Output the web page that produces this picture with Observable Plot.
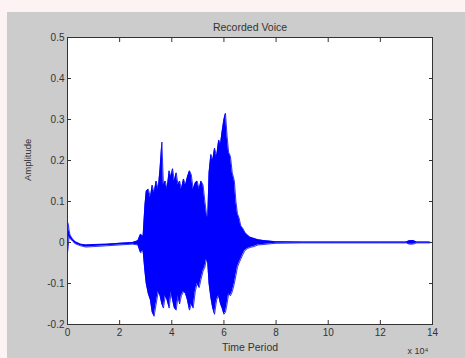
<!DOCTYPE html>
<html>
<head>
<meta charset="utf-8">
<script src="https://cdn.jsdelivr.net/npm/d3@7"></script>
<script src="https://cdn.jsdelivr.net/npm/@observablehq/plot@0.6"></script>
<style>
  html, body { margin: 0; padding: 0; background: #fdf3f2; width: 465px; height: 358px; overflow: hidden; }
  #fig { position: absolute; left: 7px; top: 12px; width: 458px; height: 346px; background: #cccccc; }
  svg { font-family: "Liberation Sans", Arial, sans-serif; }
</style>
</head>
<body>
<div id="fig"></div>
<script>
// Time (x 10^4 samples)
const time = [0, 0.03, 0.06, 0.1, 0.2, 0.3, 0.5, 0.7, 1.0, 1.5, 2.0, 2.5, 2.7, 2.8, 2.9,
  2.97, 3.02, 3.10, 3.18, 3.25, 3.32, 3.40, 3.48, 3.55, 3.62, 3.68, 3.75, 3.82, 3.90, 3.97,
  4.03, 4.10, 4.17, 4.24, 4.30, 4.37, 4.45, 4.53, 4.60, 4.68, 4.75, 4.82, 4.90, 4.97,
  5.05, 5.12, 5.20, 5.27, 5.33, 5.38, 5.43, 5.50, 5.57, 5.64, 5.72, 5.80, 5.87, 5.93,
  6.00, 6.06, 6.12, 6.18, 6.25, 6.32, 6.40, 6.46, 6.52, 6.58, 6.65, 6.72, 6.80, 6.90,
  7.00, 7.15, 7.30, 7.50, 7.80, 8.00, 9.0, 10.0, 11.0, 12.0, 13.0, 13.1, 13.25, 13.4, 13.9];
// Upper envelope of amplitude
const upper = [0.05, 0.045, 0.03, 0.018, 0.008, 0.002, -0.004, -0.006, -0.005, -0.004, -0.002, 0.0, 0.004, 0.02, 0.015,
  0.09, 0.125, 0.13, 0.11, 0.14, 0.12, 0.15, 0.13, 0.18, 0.245, 0.14, 0.15, 0.13, 0.175, 0.16,
  0.18, 0.15, 0.17, 0.14, 0.15, 0.13, 0.155, 0.14, 0.16, 0.175, 0.165, 0.13, 0.145, 0.15,
  0.13, 0.15, 0.14, 0.10, 0.07, 0.06, 0.17, 0.215, 0.20, 0.23, 0.21, 0.25, 0.24, 0.27,
  0.30, 0.315, 0.26, 0.22, 0.21, 0.17, 0.15, 0.10, 0.07, 0.06, 0.04, 0.035, 0.025, 0.018,
  0.013, 0.01, 0.007, 0.005, 0.003, 0.002, 0.001, 0.001, 0.001, 0.001, 0.001, 0.004, 0.005, 0.001, 0.001];
// Lower envelope of amplitude
const lower = [-0.025, -0.01, 0.015, 0.01, 0.003, -0.003, -0.008, -0.011, -0.01, -0.008, -0.006, -0.004, -0.006, -0.025, -0.02,
  -0.07, -0.10, -0.125, -0.14, -0.17, -0.18, -0.15, -0.12, -0.13, -0.15, -0.16, -0.13, -0.14, -0.16, -0.12,
  -0.14, -0.16, -0.165, -0.13, -0.15, -0.13, -0.12, -0.125, -0.14, -0.165, -0.15, -0.16, -0.12, -0.10,
  -0.11, -0.09, -0.07, -0.06, -0.04, -0.05, -0.10, -0.135, -0.16, -0.175, -0.14, -0.13, -0.15, -0.16,
  -0.175, -0.17, -0.15, -0.125, -0.13, -0.12, -0.10, -0.08, -0.06, -0.05, -0.04, -0.03, -0.02, -0.015,
  -0.012, -0.01, -0.006, -0.005, -0.003, -0.002, -0.001, -0.001, -0.001, -0.001, -0.001, -0.004, -0.004, -0.001, -0.001];

const xTicks = [0, 2, 4, 6, 8, 10, 12, 14];
const yTicks = [-0.2, -0.1, 0, 0.1, 0.2, 0.3, 0.4, 0.5];
const titleText = "Recorded Voice";
const xLabel = "Time Period";
const yLabel = "Amplitude";
const xExp = "x 10⁴";

const data = time.map((t, i) => ({t, hi: upper[i], lo: lower[i]}));
const blue = "#0000ff";
const fmtY = d => d === 0 ? "0" : String(d);

const chart = Plot.plot({
  width: 458,
  height: 346,
  marginLeft: 60,
  marginRight: 33,
  marginTop: 25,
  marginBottom: 34,
  style: {background: "transparent", fontSize: "10px", color: "#333", fontFamily: "Liberation Sans, Arial, sans-serif"},
  x: {domain: [0, 14]},
  y: {domain: [-0.2, 0.5]},
  marks: [
    Plot.frame({fill: "white"}),
    Plot.areaY(data, {x: "t", y1: "lo", y2: "hi", fill: blue, curve: "linear"}),
    Plot.lineY(data, {x: "t", y: "hi", stroke: blue, strokeWidth: 0.8}),
    Plot.lineY(data, {x: "t", y: "lo", stroke: blue, strokeWidth: 0.8}),
    Plot.axisX(xTicks, {anchor: "bottom", tickSize: -4, tickPadding: 8, label: null, fontSize: 10, tickFormat: d => String(d)}),
    Plot.axisX(xTicks, {anchor: "top", tickSize: -4, label: null, tickFormat: () => ""}),
    Plot.axisY(yTicks, {anchor: "left", tickSize: -4, tickPadding: 7, label: null, fontSize: 10, tickFormat: fmtY}),
    Plot.axisY(yTicks, {anchor: "right", tickSize: -4, label: null, tickFormat: () => ""}),
    Plot.frame({stroke: "#333"}),
    Plot.text([titleText], {frameAnchor: "top", dy: -14, fontSize: 10.5, fill: "#333"}),
    Plot.text([xLabel], {frameAnchor: "bottom", dy: 26, fontSize: 10.5, fill: "#333"}),
    Plot.text([yLabel], {frameAnchor: "left", dx: -40, rotate: -90, fontSize: 9.5, fill: "#333"}),
    Plot.text([xExp], {frameAnchor: "bottom-right", dy: 29, dx: -4, textAnchor: "end", fontSize: 9, fill: "#333"})
  ]
});
document.getElementById("fig").appendChild(chart);
</script>
</body>
</html>
